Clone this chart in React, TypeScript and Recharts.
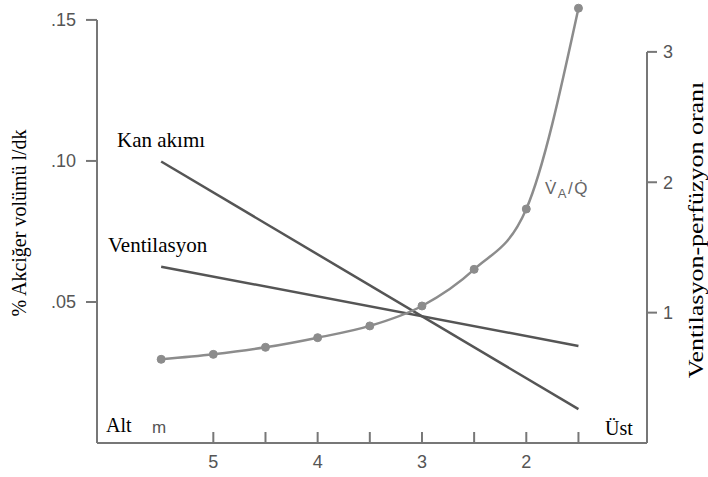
import {
  ComposedChart,
  Line,
  XAxis,
  YAxis,
  ReferenceLine,
} from "recharts";

// position in the lung (m from bottom), reversed axis
const positions = [5.5, 5, 4.5, 4, 3.5, 3, 2.5, 2, 1.5];
const vqRatio = [0.642, 0.68, 0.734, 0.808, 0.898, 1.051, 1.332, 1.795, 3.335];
const bloodFlow = [0.0998, null, null, null, null, null, null, null, 0.012];
const ventilation = [0.0625, null, null, null, null, null, null, null, 0.0344];

const xTicks = [5, 4.5, 4, 3.5, 3, 2.5, 2, 1.5];
const leftTicks = [0.05, 0.1, 0.15];
const rightTicks = [1, 2, 3];

const X_MIN = 0.843;
const X_MAX = 6.115;

const AXIS = "#777";
const SANS = "'Liberation Sans', Arial, sans-serif";
const SERIF = "'Liberation Serif', 'Times New Roman', serif";

const data = positions.map((p, i) => ({
  pos: p,
  vq: vqRatio[i],
  kan: bloodFlow[i],
  vent: ventilation[i],
}));

function XTick(props: any) {
  const { x, y, payload } = props;
  const v = payload.value;
  return (
    <g>
      <line x1={x} x2={x} y1={y} y2={y - 11} stroke={AXIS} strokeWidth={2} />
      {Number.isInteger(v) && (
        <text x={x} y={y + 25} textAnchor="middle" fontSize={18} fill="#555" fontFamily={SANS}>
          {v}
        </text>
      )}
    </g>
  );
}

export default function App() {
  return (
    <div style={{ position: "absolute", left: 0, top: 0, width: 708, height: 477, background: "#fff" }}>
      <ComposedChart
        width={708}
        height={477}
        data={data}
        margin={{ top: 3, right: 0, left: 0, bottom: 0 }}
      >
        <XAxis
          dataKey="pos"
          type="number"
          domain={[X_MIN, X_MAX]}
          reversed
          ticks={xTicks}
          interval={0}
          height={34}
          tickSize={0}
          tickMargin={0}
          tickLine={false}
          axisLine={{ stroke: AXIS, strokeWidth: 2 }}
          tick={<XTick />}
        />
        <YAxis
          yAxisId="left"
          type="number"
          domain={[0, 0.156]}
          ticks={leftTicks}
          width={97}
          axisLine={false}
          tickSize={11}
          tickMargin={10}
          tickLine={{ stroke: AXIS, strokeWidth: 2 }}
          tickFormatter={(v: number) => v.toFixed(2).replace(/^0/, "")}
          tick={{ fontSize: 18, fill: "#555", fontFamily: SANS }}
        />
        <YAxis
          yAxisId="right"
          orientation="right"
          type="number"
          domain={[0, 3.375]}
          ticks={rightTicks}
          width={61}
          axisLine={false}
          tickSize={10}
          tickMargin={6}
          tickLine={{ stroke: AXIS, strokeWidth: 2 }}
          tick={{ fontSize: 18, fill: "#555", fontFamily: SANS, textAnchor: "start" }}
        />
        <ReferenceLine
          yAxisId="left"
          segment={[{ x: X_MAX, y: 0 }, { x: X_MAX, y: 0.15 }]}
          stroke={AXIS}
          strokeWidth={2}
        />
        <ReferenceLine
          yAxisId="right"
          segment={[{ x: X_MIN, y: 0 }, { x: X_MIN, y: 3 }]}
          stroke={AXIS}
          strokeWidth={2}
        />
        <Line
          yAxisId="left"
          dataKey="kan"
          type="linear"
          connectNulls
          stroke="#555"
          strokeWidth={2.5}
          dot={false}
          isAnimationActive={false}
        />
        <Line
          yAxisId="left"
          dataKey="vent"
          type="linear"
          connectNulls
          stroke="#555"
          strokeWidth={2.5}
          dot={false}
          isAnimationActive={false}
        />
        <Line
          yAxisId="right"
          dataKey="vq"
          type="monotone"
          stroke="#8c8c8c"
          strokeWidth={2.5}
          dot={{ r: 4, fill: "#8c8c8c", stroke: "#8c8c8c", strokeWidth: 1 }}
          isAnimationActive={false}
        />

        <text transform="translate(25.5,223) rotate(-90)" textAnchor="middle" fontSize={20} fontFamily={SERIF} fill="#000">
          % Akciğer volümü l/dk
        </text>
        <text
          transform="translate(703,230) rotate(-90) scale(1.3,1)"
          textAnchor="middle"
          fontSize={20}
          fontFamily={SERIF}
          fill="#000"
        >
          Ventilasyon-perfüzyon oranı
        </text>
        <text x={117} y={147} fontSize={21} fontFamily={SERIF} fill="#000">Kan akımı</text>
        <text x={108} y={252} fontSize={21} fontFamily={SERIF} fill="#000">Ventilasyon</text>
        <text x={106} y={432} fontSize={20} fontFamily={SERIF} fill="#000">Alt</text>
        <text x={605} y={435} fontSize={20} fontFamily={SERIF} fill="#000">Üst</text>
        <text x={152} y={433} fontSize={17} fontFamily={SANS} fill="#555">m</text>
        <text x={545} y={194} fontSize={17} fontFamily={SANS} fill="#666" letterSpacing={1.5}>
          V̇<tspan fontSize={13} dy={4}>A</tspan><tspan dy={-4}>/Q̇</tspan>
        </text>
      </ComposedChart>
    </div>
  );
}
